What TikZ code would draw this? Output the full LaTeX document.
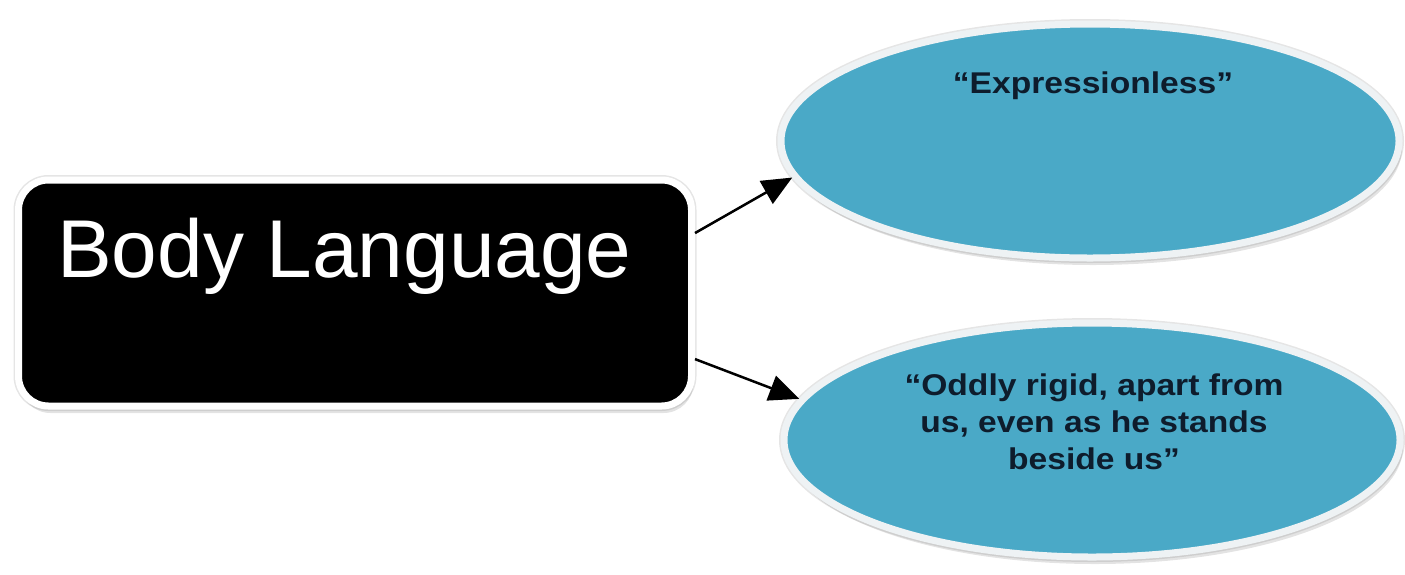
\documentclass[tikz,border=0pt]{standalone}
\usepackage{fontspec}
\setmainfont{Liberation Sans}
\newfontfamily\quotefont[FakeStretch=1.12]{Liberation Sans}
\usetikzlibrary{shapes.geometric,shadows,arrows.meta,positioning}
\definecolor{bubble}{RGB}{74,169,199}
\definecolor{rim}{RGB}{238,242,244}
\definecolor{ink}{RGB}{14,28,44}
\begin{document}
\begin{tikzpicture}[x=1pt,y=-1pt,
  box/.style={rectangle, rounded corners=30pt, fill=black, draw=white, line width=7pt,
    minimum width=673pt, minimum height=226pt, inner sep=0pt,
    preaction={draw=black!10, line width=10pt},
    drop shadow={opacity=.22, shadow xshift=2pt, shadow yshift=-7pt}},
  bubble/.style={ellipse, fill=bubble, draw=rim, line width=7pt, inner sep=0pt,
    preaction={draw=black!10, line width=10pt},
    drop shadow={opacity=.22, shadow xshift=3pt, shadow yshift=-7pt}},
  quote/.style={font=\quotefont\bfseries\fontsize{30}{37}\selectfont, text=ink, align=center, inner sep=0pt},
  link/.style={-{Triangle[length=30pt,width=26pt]}, line width=2.5pt}]
\useasboundingbox (0,0) rectangle (1405,574);
\node[box] (lang) at (355,293) {};
\node[font=\fontsize{82}{98}\selectfont, text=white, anchor=base west, inner sep=0pt] (title) at (57,277) {Body Language};
\node[bubble, minimum width=618pt, minimum height=234pt] (blank) at (1090,141) {};
\node[bubble, minimum width=616pt, minimum height=234pt] (rigid) at (1092,440) {};
\node[quote] (blanktext) at (1093,86) {“Expressionless”};
\node[quote] (rigidtext) at (1094,422) {“Oddly rigid, apart from\\us, even as he stands\\beside us”};
\draw[link] (lang.10) -- (blank.187);
\draw[link] (lang.-11) -- (rigid.172);
\end{tikzpicture}
\end{document}
